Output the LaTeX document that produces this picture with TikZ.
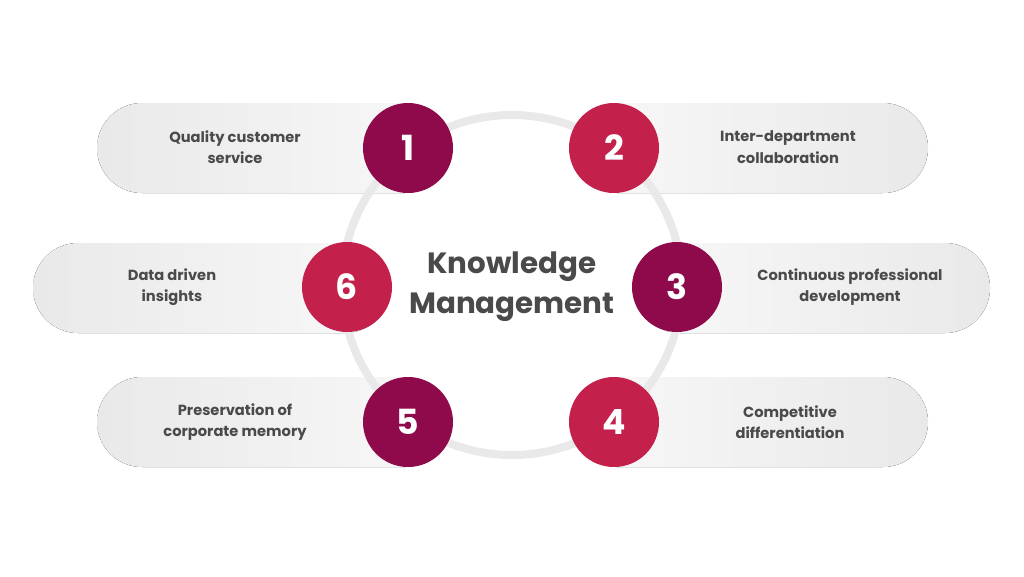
\documentclass[tikz,border=0pt]{standalone}
\usepackage{fontspec}
\setmainfont{Poppins}
\definecolor{maroon}{HTML}{8E0A4B}
\definecolor{crim}{HTML}{C4204C}
\definecolor{pillg}{HTML}{E9E9E9}
\definecolor{txt}{HTML}{4A4A4A}
\begin{document}
\begin{tikzpicture}[x=0.75pt,y=-0.75pt,
  num/.style={circle,minimum size=67.5pt,inner sep=0,text=white,font=\fontsize{26}{26}\selectfont\bfseries},
  lbl/.style={align=center,text=txt,font=\fontsize{11}{16}\selectfont\bfseries},
  lpill/.style={left color=pillg,right color=pillg!30,rounded corners=33.75pt},
  rpill/.style={right color=pillg,left color=pillg!30,rounded corners=33.75pt}]
\useasboundingbox (0,0) rectangle (1024,576);
\fill[white] (0,0) rectangle (1024,576);
% pills
\fill[lpill] (97,103) rectangle (450,193);
\fill[lpill] (33,243) rectangle (390,333);
\fill[lpill] (97,377) rectangle (450,467);
\fill[rpill] (572,103) rectangle (928,193);
\fill[rpill] (635,243) rectangle (990,333);
\fill[rpill] (572,377) rectangle (928,467);
% ring
\draw[line width=6pt,color=pillg] (512,285) circle[radius=170];
% circles
\node[num,fill=maroon] (n1) at (408,148) {1};
\node[num,fill=crim] (n2) at (614,148) {2};
\node[num,fill=maroon] (n3) at (677,287) {3};
\node[num,fill=crim] (n4) at (614,422) {4};
\node[num,fill=maroon] (n5) at (408,422) {5};
\node[num,fill=crim] (n6) at (347,287) {6};
% labels
\node[lbl] (t1) at (235,147) {Quality customer\\service};
\node[lbl] (t2) at (788,147) {Inter-department\\collaboration};
\node[lbl] (t3) at (850,287) {Continuous professional\\development};
\node[lbl] (t4) at (790,422) {Competitive\\differentiation};
\node[lbl] (t5) at (235,422) {Preservation of\\corporate memory};
\node[lbl] (t6) at (172,287) {Data driven\\insights};
\node[align=center,text=txt,font=\fontsize{22}{30}\selectfont\bfseries] (c) at (512,287) {Knowledge\\Management};
\end{tikzpicture}
\end{document}
